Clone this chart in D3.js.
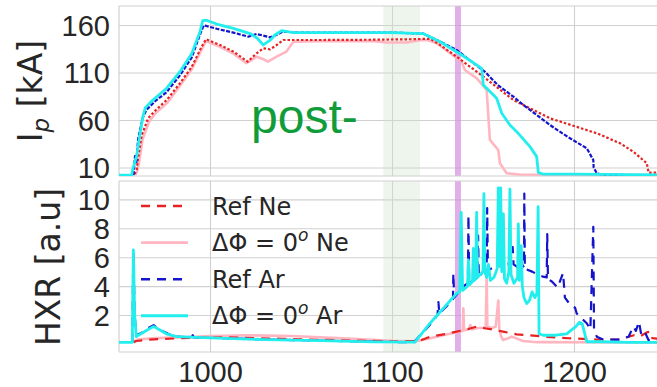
<!DOCTYPE html>
<html>
<head>
<meta charset="utf-8">
<script src="https://cdn.jsdelivr.net/npm/d3@7"></script>
<style>
  html, body { margin: 0; padding: 0; background: #ffffff; }
  svg { display: block; font-family: "DejaVu Sans", sans-serif; }
</style>
</head>
<body>
<svg id="chart" width="657" height="387"></svg>
<script>
// ---- data: plasma current Ip [kA] vs time [ms] ----
const ipRefNe = [[958.5,3],[959.7,7.4],[960.5,20],[962.5,44],[966,61.8],[970,70],[976.2,81],[983.5,98.6],[990,116],[995.4,137],[997.8,145],[1005.5,139],[1012.8,132],[1020.7,121.4],[1025.6,130.2],[1029.3,135.5],[1033,134.4],[1036,138],[1040.3,144.2],[1060,144.2],[1090,144.5],[1110,145],[1121,145.5],[1126.4,139],[1135.5,126.6],[1150.2,105.6],[1166.7,81],[1186.8,61.8],[1212.5,46],[1225.3,35.5],[1232.6,26.6],[1240,14.4],[1241,4.5],[1250,4.5]];
const ipPhi0Ne = [[959,2],[960,6],[961,15],[963,40],[966.5,58],[970,67],[976.5,78],[983.5,96],[990,113.5],[995.4,134],[997.8,143],[1005.5,137],[1012.8,130],[1020,119.7],[1025.6,126.6],[1029.3,124],[1031.8,121.4],[1036.6,126.6],[1042,132],[1045.8,142.4],[1060,143],[1090,143],[1097,141.5],[1108,141.5],[1115,144],[1120,144],[1124.6,140.7],[1138.3,121.4],[1140,112.6],[1146.5,104],[1152,91.6],[1153.8,39],[1158.4,28.4],[1159.3,14.4],[1163,3.9],[1170,2.5],[1250,2]];
const ipRefAr = [[958,2],[958.8,22],[959.5,14],[960.5,40],[963,62],[965,70.5],[970,80],[976,89],[983.5,107],[990,126],[994.5,150],[996.5,159.5],[998,159],[1003.7,156],[1012.8,152],[1021,147.7],[1025.6,150.5],[1029,149],[1033,147],[1037,150],[1040,153],[1050,152],[1070,152],[1100,152],[1117,151],[1126,143],[1135.5,133.7],[1142,124],[1151,110.8],[1158,97],[1166.7,84.5],[1172,76],[1179.5,65.3],[1186.8,54.7],[1192,48],[1197.8,40.7],[1207,30.2],[1210.6,17.9],[1210.8,10],[1212.5,4],[1215,2.5],[1230,2],[1250,2]];
const ipPhi0Ar = [[950,2],[957,2],[957.5,8],[959.7,22],[961.5,45],[963.3,65],[964.5,73],[967,78],[970.7,84.5],[976.2,93.4],[983.5,110.8],[990,130],[994.5,153],[996,164.5],[998,165],[1003.7,161],[1012.8,156.5],[1022,151],[1026,146],[1029.3,139],[1033,144],[1036,150],[1039.4,154],[1045.8,152],[1070,152],[1100,152],[1117,151],[1126.4,142.4],[1138.3,128.4],[1149.3,114.4],[1150.2,96.8],[1152,93.4],[1157.5,82.8],[1160.3,67],[1164.8,54.7],[1168.5,47.7],[1175.8,31.9],[1179.5,21.4],[1180.4,4.5],[1183,3],[1200,3],[1230,2.5],[1250,2]];

// ---- data: hard X-ray signal [a.u.] vs time [ms] ----
const hxrRefNe = [[958,0.11],[959.5,0.2],[965,0.28],[975,0.35],[990,0.42],[1010,0.45],[1040,0.35],[1070,0.25],[1100,0.18],[1115,0.2],[1121,0.5],[1130,0.7],[1135.5,0.85],[1141,1.0],[1146.5,1.2],[1150,1.1],[1155,1.0],[1161,0.85],[1168.5,0.66],[1175,0.6],[1183.8,0.5],[1197,0.39],[1212.5,0.3],[1225,0.3],[1230,0.5],[1233,0.6],[1236,0.5],[1240,0.8],[1242,0.85],[1243,0.4],[1250,0.3]];
const hxrPhi0Ne = [[958,0.15],[960,0.3],[970,0.4],[985,0.45],[1000,0.55],[1020,0.6],[1045,0.55],[1070,0.4],[1100,0.22],[1113,0.18],[1120,0.35],[1128,0.6],[1135.5,0.8],[1138.8,0.9],[1139.2,2.46],[1139.6,0.95],[1142,1.0],[1143,1.3],[1144,1.0],[1147,1.1],[1150,1.1],[1151.5,1.2],[1152,4.65],[1152.4,1.2],[1155,1.1],[1157,1.2],[1158.4,3.0],[1159,1.0],[1160,0.5],[1161,0.27],[1163,0.35],[1165.8,0.5],[1168,0.4],[1172,0.2],[1180,0.12],[1250,0.1]];
const hxrRefAr = [[957.3,0.11],[957.9,6.5],[958.6,2.0],[959.5,0.6],[963,0.8],[966,1.1],[969,1.3],[972,1.0],[977,0.7],[982,0.5],[990,0.45],[990.5,0.6],[991,0.45],[1010,0.38],[1040,0.28],[1070,0.2],[1100,0.13],[1112,0.12],[1120,1.2],[1125,2.0],[1125.5,2.9],[1126,2.1],[1130,2.6],[1133.5,3.1],[1133.7,4.9],[1134.2,3.2],[1139,3.96],[1141.7,4.2],[1142,8.9],[1142.4,4.2],[1145,4.4],[1147,4.6],[1147.3,7.5],[1147.7,4.6],[1150,5.0],[1152,5.1],[1152.3,9.4],[1152.7,5.1],[1156,5.3],[1160.5,5.4],[1160.8,9.0],[1161.2,5.4],[1164,5.5],[1166.3,6.7],[1166.8,5.5],[1169,5.3],[1170,5.8],[1172.5,5.3],[1172.7,10.4],[1173,5.2],[1177,5.0],[1180,4.8],[1183,4.65],[1185,4.6],[1185.3,7.6],[1185.7,4.5],[1188,4.3],[1191,3.9],[1194,4.9],[1195,3.2],[1198,2.7],[1200.6,2.5],[1201.5,2.1],[1204,1.8],[1207,1.43],[1209,1.0],[1210.6,8.1],[1211,1.0],[1212.5,0.5],[1216,0.3],[1225,0.3],[1230,0.5],[1232.6,1.2],[1234,0.9],[1235.7,1.54],[1237,0.6],[1239,0.8],[1241,0.25],[1250,0.2]];
const hxrPhi0Ar = [[950,0.11],[957.3,0.11],[957.9,6.5],[958.6,2],[959.5,0.5],[962,0.7],[966,1.0],[969,1.2],[972,1.0],[976,0.7],[981.7,0.5],[1000,0.42],[1030,0.3],[1060,0.22],[1090,0.14],[1112.6,0.12],[1120.9,1.43],[1129,2.57],[1135.5,3.5],[1137.2,3.6],[1138,9.1],[1138.8,3.7],[1141.5,4.0],[1142,5.8],[1142.6,4.1],[1144.2,4.3],[1144.7,6.6],[1145.2,4.4],[1146,4.5],[1146.5,9.1],[1147,4.6],[1148.5,4.8],[1150,5.0],[1150.5,10.4],[1151,5.0],[1152,4.6],[1153,5.5],[1154,4.4],[1156,4.6],[1157.8,5.2],[1158.4,10.8],[1159,5.4],[1159.7,10.8],[1160.3,5],[1161.2,9.0],[1161.8,4.5],[1163,4.2],[1164.2,5],[1164.8,10.7],[1165.4,4.8],[1167,4.2],[1169,4.6],[1169.4,8.3],[1169.9,4.4],[1171,6.8],[1171.6,4.0],[1172.5,3.2],[1174,2.8],[1175.5,3.0],[1177,3.6],[1178.5,3.2],[1179.6,3.5],[1180.3,9.5],[1180.8,0.7],[1183,0.6],[1190,0.6],[1196,0.7],[1199,1.0],[1201,1.2],[1203,1.5],[1204.5,1.4],[1205.5,0.9],[1207,0.15],[1215,0.15],[1230,0.1],[1250,0.1]];

// ---- ticks, marked intervals, labels ----
const xTicks = [1000, 1100, 1200];
const ipTicks = [10, 60, 110, 160];
const hxrTicks = [2, 4, 6, 8, 10];
const greenBand = [1095.2, 1115.4];
const violetBand = [1134.6, 1137.9];
const legendNames = ["Ref Ne", "ΔΦ = 0|o| Ne", "Ref Ar", "ΔΦ = 0|o| Ar"];

// ---- layout ----
const svg = d3.select("#chart");
const left = 119, right = 665;
const top1 = 6, bot1 = 176, top2 = 181, bot2 = 352;

const x = d3.scaleLinear().domain([950, 1250]).range([left, right]);
const yIp = d3.scaleLinear().domain([1, 180]).range([bot1, top1]);
const yHxr = d3.scaleLinear().domain([-0.56, 11.27]).range([bot2, top2]);

const gridColor = "#d0d0d0";
const textColor = "#262626";
const tickFont = "29px";

const series = [
  { ip: ipPhi0Ne, hxr: hxrPhi0Ne, color: "#ffb6c1", width: 2.6, dashTop: null, dashBot: null },
  { ip: ipRefNe,  hxr: hxrRefNe,  color: "#e62222", width: 2.2, dashTop: "2.5,2", dashBot: "9,7" },
  { ip: ipRefAr,  hxr: hxrRefAr,  color: "#1414cc", width: 2.2, dashTop: "4,1.5", dashBot: "9,7" },
  { ip: ipPhi0Ar, hxr: hxrPhi0Ar, color: "#22eeee", width: 2.8, dashTop: null, dashBot: null }
];
// legend order: Ref Ne, ΔΦ Ne, Ref Ar, ΔΦ Ar
const legendStyles = [series[1], series[0], series[2], series[3]];

const defs = svg.append("defs");
[[top1, bot1, "clipTop"], [top2, bot2, "clipBot"]].forEach(([t, b, id]) => {
  defs.append("clipPath").attr("id", id)
    .append("rect").attr("x", left).attr("y", t).attr("width", right - left).attr("height", b - t);
});

function panel(yScale, yTicks, t, b, clipId, key, dashKey) {
  const g = svg.append("g");
  // horizontal grid + y tick labels
  const ya = g.append("g").attr("transform", `translate(${left},0)`)
    .call(d3.axisLeft(yScale).tickValues(yTicks).tickSize(-(right - left)).tickPadding(9).tickFormat(d3.format("d")));
  ya.select(".domain").remove();
  ya.selectAll(".tick line").attr("stroke", gridColor).attr("stroke-width", 1.1);
  ya.selectAll(".tick text").attr("fill", textColor).style("font-size", tickFont).attr("dy", "0.36em");
  // vertical grid
  const xa = g.append("g").attr("transform", `translate(0,${b})`)
    .call(d3.axisBottom(x).tickValues(xTicks).tickSize(-(b - t)).tickFormat(""));
  xa.select(".domain").remove();
  xa.selectAll(".tick line").attr("stroke", gridColor).attr("stroke-width", 1.1);
  // marked time intervals
  g.append("rect").attr("x", x(greenBand[0])).attr("y", t)
    .attr("width", x(greenBand[1]) - x(greenBand[0])).attr("height", b - t)
    .attr("fill", "#cfe3cc").attr("opacity", 0.35);
  g.append("rect").attr("x", x(violetBand[0])).attr("y", t)
    .attr("width", x(violetBand[1]) - x(violetBand[0])).attr("height", b - t)
    .attr("fill", "#d58ede").attr("opacity", 0.7);
  // spines
  g.append("line").attr("x1", left).attr("x2", left).attr("y1", t).attr("y2", b).attr("stroke", gridColor).attr("stroke-width", 1.2);
  g.append("line").attr("x1", left).attr("x2", right).attr("y1", t).attr("y2", t).attr("stroke", gridColor).attr("stroke-width", 1.2);
  g.append("line").attr("x1", left).attr("x2", right).attr("y1", b).attr("y2", b).attr("stroke", gridColor).attr("stroke-width", 1.2);
  // data lines
  const line = d3.line().x(d => x(d[0])).y(d => yScale(d[1]));
  const lg = g.append("g").attr("clip-path", `url(#${clipId})`);
  series.forEach(s => {
    lg.append("path").datum(s[key]).attr("d", line)
      .attr("fill", "none").attr("stroke", s.color).attr("stroke-width", s.width)
      .attr("stroke-linejoin", "round")
      .attr("stroke-dasharray", s[dashKey]);
  });
  return g;
}

panel(yIp, ipTicks, top1, bot1, "clipTop", "ip", "dashTop");
panel(yHxr, hxrTicks, top2, bot2, "clipBot", "hxr", "dashBot");

// x tick labels under the lower panel
const xl = svg.append("g").attr("transform", `translate(0,${bot2})`)
  .call(d3.axisBottom(x).tickValues(xTicks).tickSize(0).tickPadding(0).tickFormat(d3.format("d")));
xl.select(".domain").remove();
xl.selectAll(".tick text").attr("fill", textColor).style("font-size", tickFont).attr("y", 29.5).attr("dy", 0);

// y-axis titles
const ipLabel = svg.append("text").attr("transform", "translate(42,91) rotate(-90)")
  .attr("text-anchor", "middle").attr("fill", textColor).style("font-size", "33px");
ipLabel.append("tspan").text("I");
ipLabel.append("tspan").text("p").style("font-size", "23px").style("font-style", "italic").attr("dy", 7);
ipLabel.append("tspan").text(" [kA]").attr("dy", -7);

svg.append("text").attr("transform", "translate(60,267) rotate(-90)")
  .attr("text-anchor", "middle").attr("fill", textColor).style("font-size", "33px")
  .text("HXR [a.u]");

// annotation
svg.append("text").attr("x", 251).attr("y", 132.5)
  .attr("fill", "#109c3a").style("font-family", "'Liberation Sans', Arial, sans-serif").style("font-size", "48px")
  .text("post-");

// legend
const legY0 = 206, legStep = 36.6;
legendNames.forEach((name, i) => {
  const s = legendStyles[i];
  const yy = legY0 + i * legStep;
  svg.append("line").attr("x1", 141).attr("x2", 188).attr("y1", yy).attr("y2", yy)
    .attr("stroke", s.color).attr("stroke-width", s.width + 0.3)
    .attr("stroke-dasharray", s.dashBot);
  const parts = name.split("|");
  const tx = svg.append("text").attr("x", 212).attr("y", yy + 8.5)
    .attr("fill", textColor).style("font-size", "24px");
  tx.append("tspan").text(parts[0]);
  if (parts.length > 1) {
    tx.append("tspan").text(parts[1]).style("font-size", "17px").style("font-style", "italic").attr("dy", -10);
    tx.append("tspan").text(parts[2]).attr("dy", 10);
  }
});
</script>
</body>
</html>
